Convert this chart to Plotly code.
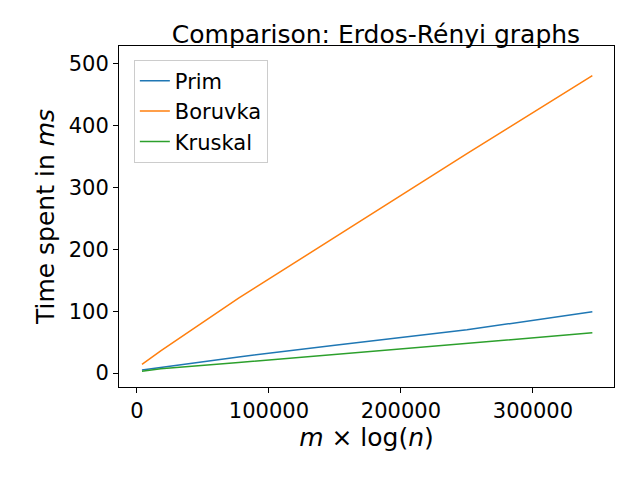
import plotly.graph_objects as go

x_vals = [3800, 18000, 77000, 150000, 250000, 345000]
prim = [5, 9, 26, 45, 70, 99]
boruvka = [14, 36, 121, 220, 355, 481]
kruskal = [3, 7, 17, 30, 47, 65]

fig = go.Figure()
for name, ys, col in [("Prim", prim, "#1f77b4"), ("Boruvka", boruvka, "#ff7f0e"), ("Kruskal", kruskal, "#2ca02c")]:
    fig.add_trace(go.Scatter(x=x_vals, y=ys, mode="lines", name=name, line=dict(color=col, width=1.5)))

axis = dict(showline=True, linecolor="black", linewidth=1, mirror=True, ticks="outside",
            ticklen=5, tickcolor="black", showgrid=False, zeroline=False, automargin=False)
fig.update_layout(
    width=640, height=480, plot_bgcolor="white", paper_bgcolor="white",
    font=dict(family="DejaVu Sans", size=21, color="black"),
    margin=dict(l=111, r=34, t=38, b=101),
    title=dict(text="Comparison: Erdos-Rényi graphs", x=0.575, xanchor="center", y=0.945, yanchor="middle",
               font=dict(size=25)),
    xaxis=dict(axis, range=[-13600, 361400], tickvals=[0, 100000, 200000, 300000],
               ticktext=["0", "100000", "200000", "300000"], title=dict(text="<i>m</i> × log(<i>n</i>)", standoff=6)),
    yaxis=dict(axis, range=[-22.6, 529], tickvals=[0, 100, 200, 300, 400, 500], title=dict(text="Time spent in <i>ms</i>", standoff=6)),
    legend=dict(x=0.03, y=0.96, xanchor="left", yanchor="top", bordercolor="#cccccc", borderwidth=1,
                bgcolor="white", font=dict(size=21)),
)
fig.write_html("out.html")
